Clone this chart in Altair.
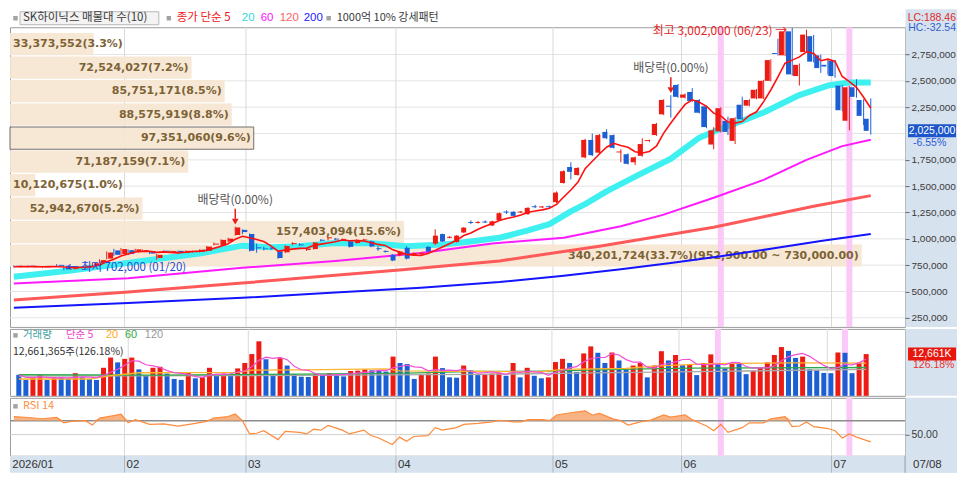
import altair as alt
import numpy as np
import pandas as pd

# ---------------- candles (thousand KRW); index 0 = 01/09 ... 120 = 07/08 ----------------
opens_k = [740, 732, 742, 731, 729, 732, 748, 745, 712, 722,
           730, 746, 770, 812, 890, 856, 892, 878, 885, 882,
           818, 882, 876, 886, 870, 874, 876, 886, 945, 936,
           976, 1036, 1085, 1046, 918, 905, 912, 882, 872, 950,
           945, 895, 903, 990, 1005, 1000, 990, 975, 960, 985,
           975, 906, 884, 848, 843, 915, 845, 858, 924, 955,
           1045, 1010, 970, 1060, 1155, 1150, 1160, 1127, 1176, 1255,
           1257, 1250, 1234, 1305, 1298, 1305, 1348, 1530, 1682, 1606,
           1773, 1939, 1818, 2015, 1985, 1820, 1803, 1727, 1788, 1928,
           1985, 2182, 2262, 2461, 2340, 2394, 2318, 2258, 1895, 2020,
           2120, 1930, 2273, 2264, 2333, 2333, 2500, 2762, 2742, 2970,
           2545, 2773, 2924, 2742, 2652, 2688, 2455, 2121, 2439, 2318,
           2140]
highs_k = [748, 745, 748, 740, 738, 742, 760, 752, 728, 735,
           748, 775, 805, 880, 905, 912, 898, 905, 898, 886,
           856, 892, 888, 890, 890, 888, 900, 932, 965, 995,
           1010, 1115, 1090, 1050, 955, 925, 925, 890, 940, 968,
           958, 915, 970, 998, 1020, 1008, 1002, 985, 996, 1000,
           982, 930, 890, 855, 885, 930, 870, 872, 930, 1090,
           1050, 1025, 1035, 1112, 1175, 1170, 1175, 1172, 1250, 1270,
           1262, 1265, 1300, 1322, 1312, 1315, 1450, 1650, 1727, 1680,
           1950, 2000, 1995, 2040, 1990, 1850, 1810, 1780, 1955, 1942,
           2100, 2325, 2364, 2470, 2380, 2430, 2325, 2265, 2060, 2250,
           2160, 2155, 2350, 2325, 2422, 2510, 2705, 2900, 2980, 3002,
           2665, 2985, 2935, 2750, 2700, 2700, 2462, 2450, 2515, 2325,
           2333]
lows_k = [728, 728, 730, 726, 722, 728, 738, 702, 705, 716,
          725, 740, 765, 805, 838, 848, 845, 872, 878, 855,
          800, 870, 870, 864, 866, 868, 872, 880, 938, 930,
          970, 1030, 1044, 880, 868, 890, 895, 810, 865, 940,
          935, 885, 898, 975, 985, 988, 985, 918, 955, 975,
          920, 885, 870, 788, 835, 805, 838, 850, 872, 940,
          970, 1005, 965, 1055, 1140, 1145, 1150, 1120, 1170, 1235,
          1212, 1245, 1230, 1292, 1292, 1295, 1340, 1525, 1564, 1600,
          1765, 1785, 1810, 1948, 1858, 1727, 1705, 1700, 1780, 1920,
          1978, 2175, 2150, 2340, 2332, 2300, 2190, 2050, 1850, 2010,
          1985, 1900, 2130, 2258, 2326, 2326, 2494, 2740, 2735, 2550,
          2455, 2765, 2675, 2576, 2560, 2530, 2212, 2030, 2340, 2080,
          1990]
closes_k = [735, 738, 736, 735, 733, 738, 744, 710, 722, 730,
            744, 768, 798, 870, 848, 903, 856, 900, 892, 860,
            848, 878, 880, 868, 886, 884, 896, 926, 955, 990,
            1002, 1108, 1064, 886, 910, 900, 905, 818, 932, 955,
            938, 908, 964, 982, 1010, 993, 996, 924, 990, 992,
            927, 902, 876, 794, 879, 812, 864, 866, 880, 1030,
            975, 1015, 1030, 1106, 1150, 1155, 1155, 1166, 1243, 1250,
            1218, 1258, 1294, 1300, 1303, 1300, 1439, 1642, 1636, 1673,
            1939, 1794, 1985, 1955, 1864, 1828, 1712, 1773, 1900, 1936,
            2091, 2318, 2255, 2348, 2370, 2309, 2197, 2061, 2030, 2240,
            2015, 2145, 2136, 2318, 2415, 2500, 2697, 2755, 2970, 2561,
            2652, 2939, 2682, 2621, 2636, 2545, 2221, 2439, 2348, 2167,
            2025]
# ---------------- volume (million shares) ----------------
vol_m = [6.38, 4.83, 5.61, 6.29, 4.83, 5.61, 5.42, 5.22, 6.87, 5.61,
         5.13, 4.83, 8.51, 11.60, 10.15, 11.22, 11.60, 8.03, 6.09, 8.51,
         8.80, 6.77, 5.13, 4.83, 7.06, 5.32, 5.61, 8.51, 6.29, 6.77,
         6.29, 8.32, 9.96, 12.67, 16.54, 11.12, 6.58, 11.41, 9.19, 6.58,
         5.80, 5.71, 6.58, 6.38, 6.87, 6.58, 5.90, 7.54, 7.64, 8.03,
         7.74, 7.54, 7.35, 11.90, 9.96, 9.67, 5.13, 6.38, 6.77, 11.90,
         8.41, 5.61, 5.51, 9.19, 7.74, 6.29, 6.48, 6.77, 7.06, 6.09,
         9.96, 5.61, 8.51, 6.09, 5.32, 5.61, 10.25, 11.22, 9.96, 7.25,
         12.86, 14.99, 13.06, 9.96, 13.15, 10.73, 8.03, 9.19, 9.96, 5.61,
         9.19, 13.54, 10.73, 12.38, 9.28, 9.48, 6.29, 9.96, 12.57, 9.96,
         8.32, 9.96, 9.67, 6.58, 7.54, 8.51, 10.15, 12.38, 14.80, 13.64,
         11.51, 11.90, 8.03, 7.74, 6.96, 6.87, 13.15, 13.06, 6.87, 10.0344,
         12.661365]

# ---------------- moving averages (thousand KRW) ----------------
ma20_idx = [0, 8, 18, 26, 32, 36, 40, 45, 50, 55, 60, 64, 68, 72, 75, 78, 80, 83, 87, 92,
            96, 99, 102, 105, 110, 114, 117, 120]
ma20_k = [640, 700, 790, 860, 935, 920, 930, 960, 958, 930, 945, 975, 1010, 1080, 1140, 1260,
          1330, 1450, 1590, 1760, 1960, 2045, 2120, 2200, 2365, 2455, 2485, 2485]
ma60_idx = [0, 16, 32, 45, 57, 67, 77, 85, 91, 98, 105, 111, 116, 120]
ma60_k = [575, 625, 725, 790, 865, 955, 1010, 1120, 1230, 1390, 1560, 1750, 1880, 1940]
ma120_idx = [0, 16, 32, 45, 54, 68, 82, 90, 98, 105, 112, 120]
ma120_k = [420, 495, 580, 655, 705, 790, 930, 1020, 1110, 1210, 1310, 1410]
ma200_idx = [0, 16, 32, 45, 57, 68, 77, 85, 92, 99, 106, 113, 120]
ma200_k = [345, 390, 440, 490, 535, 590, 650, 710, 770, 835, 905, 980, 1045]

vma20_idx = [0, 10, 13, 17, 31, 33, 40, 52, 54, 65, 74, 77, 86, 90, 98, 110, 120]
vma20_m = [5.1, 5.1, 6.1, 7.0, 7.1, 7.8, 7.9, 8.2, 7.6, 7.4, 7.3, 8.0, 8.3, 9.0, 9.8, 10.0, 9.9]
vma60_idx = [0, 20, 40, 55, 65, 75, 85, 95, 105, 120]
vma60_m = [6.4, 6.3, 6.6, 6.9, 7.4, 7.5, 8.0, 8.4, 8.5, 8.6]
vma120_idx = [0, 30, 65, 90, 120]
vma120_m = [6.0, 6.1, 6.5, 7.2, 8.0]

rsi_idx = [0, 2, 4, 6, 7, 8, 10, 11, 12, 14, 15, 16, 17, 18, 19, 21, 23, 25, 27, 28,
           30, 31, 32, 33, 34, 35, 37, 38, 40, 41, 42, 43, 44, 46, 47, 49, 50, 51, 53, 54,
           55, 56, 58, 59, 60, 62, 63, 65, 67, 68, 70, 71, 72, 74, 75, 76, 78, 80, 81, 82,
           84, 85, 86, 88, 89, 91, 92, 94, 95, 97, 98, 99, 100, 102, 103, 105, 106, 108, 109, 110,
           111, 112, 114, 115, 116, 117, 118, 120]
rsi_val = [75.9, 74.6, 72.8, 74.6, 66.9, 69.1, 70.0, 63.7, 73.6, 77.3, 79.2, 66.9, 71.4, 68.2, 64.6, 65.5, 62.3, 65.5, 69.1, 73.6,
           75.9, 79.6, 70.0, 51.0, 51.9, 55.5, 42.8, 54.6, 53.2, 51.0, 57.8, 56.4, 63.2, 56.4, 51.0, 56.4, 48.6, 45.5, 35.9, 46.4,
           40.5, 47.3, 48.6, 60.0, 56.4, 60.0, 64.6, 66.0, 68.2, 70.5, 68.2, 68.2, 71.4, 71.4, 70.0, 78.2, 81.4, 84.1, 78.2, 80.5,
           72.3, 70.0, 63.7, 69.1, 70.0, 78.2, 75.0, 78.2, 71.4, 62.3, 55.5, 64.6, 53.2, 60.0, 66.9, 66.9, 72.8, 75.9, 61.4, 62.3,
           68.2, 61.4, 58.7, 55.5, 45.1, 51.0, 46.4, 39.6]
rsi_levels = [70, 50]

month_start = [0, 16, 33, 54, 76, 94, 115]
month_label = ["2026/01", "02", "03", "04", "05", "06", "07"]
last_date = "07/08"
hi_date, lo_date = "06/23", "01/20"
exdiv_idx = [31, 92]
highlight_idx = [99, 117]
price_ticks = [250000, 500000, 750000, 1000000, 1250000, 1500000, 1750000, 2000000,
               2250000, 2500000, 2750000]
prof_base, prof_step = 730000, 222900
prof_vol = [340201724, 157403094, 52942670, 10120675, 71187159,
            97351060, 88575919, 85751171, 72524027, 33373552]  # bottom band -> top band
lc_text, hc_text = "LC:188.46", "HC:-32.54"

# ---------------- layout / styles ----------------
W, H1, H2, H3, HB, COLW = 896, 300, 67, 58, 17, 52
TOP = 18  # room above the price panel for its legend row
KR = "Noto Sans CJK KR"
NUM = "Liberation Sans"
RED, BLUE = "#ec1c14", "#1c5fd4"
PINK, BEIGE, AXBG = "#fbc9f8", "#f6e6d2", "#d7e2ef"

XDOM = [-0.54, 124.8]
YDOM = [163600, 3009000]
VDOM = [0, 20.3]
RDOM = [19.6, 102.8]
PDOM = [0, 357.5e6]
PPX = (YDOM[1] - YDOM[0]) / H1
VPX = (VDOM[1] - VDOM[0]) / H2

XS = alt.Scale(domain=XDOM, nice=False, zero=False)
YS = alt.Scale(domain=YDOM, nice=False, zero=False)
VS = alt.Scale(domain=VDOM, nice=False, zero=False)
RS = alt.Scale(domain=RDOM, nice=False, zero=False)
PS = alt.Scale(domain=PDOM, nice=False, zero=False)
CS = alt.Scale(domain=["up", "down"], range=[RED, BLUE])

YAX = alt.Axis(orient="right", values=[v for v in price_ticks if v != 2000000], format=",d",
               labelFont=NUM, labelFontSize=10, labelColor="#3a3a3a", tickColor="#666666",
               tickSize=4, labelPadding=2, domain=False, grid=False, title=None, zindex=1,
               labelOverlap=False)
RAX = alt.Axis(orient="right", values=[50], format=".2f", labelFont=NUM, labelFontSize=10.5,
               labelColor="#3a3a3a", tickColor="#666666", tickSize=4, labelPadding=2,
               domain=False, grid=False, title=None, zindex=1)


def XI(f="i"):
    return alt.X(f"{f}:Q", scale=XS, axis=None)


def YP(f):
    return alt.Y(f"{f}:Q", scale=YS, axis=YAX)


one = pd.DataFrame({"a": [0]})


def txt(s, x, y, color, size=12, font=KR, align="left", weight="normal"):
    return alt.Chart(one).mark_text(text=s, align=align, baseline="middle", font=font,
                                    fontSize=size, color=color, fontWeight=weight).encode(
        x=alt.value(x), y=alt.value(y))


def sq(x, y):
    return alt.Chart(one).mark_square(size=20, color="#a3a3a3", opacity=1).encode(
        x=alt.value(x), y=alt.value(y))


def vrect(x1, x2, y1, y2, **kw):
    return alt.Chart(one).mark_rect(**kw).encode(
        x=alt.value(x1), x2=alt.value(x2), y=alt.value(y1), y2=alt.value(y2))


# ---------------- tables ----------------
n = len(closes_k)
df = pd.DataFrame({
    "i": np.arange(n),
    "o": np.array(opens_k) * 1000,
    "h": np.array(highs_k) * 1000,
    "l": np.array(lows_k) * 1000,
    "c": np.array(closes_k) * 1000,
    "vm": np.array(vol_m),
})
df["dir"] = np.where(df.c >= df.o, "up", "down")
df["blo"] = np.minimum(df.o, df.c)
df["bhi"] = np.maximum(np.maximum(df.o, df.c), df.blo + 9000)
df["vdir"] = np.where(df.vm > df.vm.shift(1), "up", "down")

mdf = pd.DataFrame({"b": np.array(month_start) - 0.5, "lab": month_label})
hdf = pd.DataFrame({"i": highlight_idx})

last_c, prev_c = closes_k[-1] * 1000, closes_k[-2] * 1000
prof = pd.DataFrame({"k": range(10), "vol": prof_vol})
prof["lo"] = prof_base + prof.k * prof_step
prof["hi"] = prof.lo + prof_step
prof["mid"] = (prof.lo + prof.hi) / 2
tot = sum(prof_vol)
labs = []
for _, r in prof.iterrows():
    s = f"{int(r.vol):,}({r.vol / tot * 100:.1f}%)"
    if r.vol == max(prof_vol):
        s += f"({float(r.hi):,.2f} ~ {float(r.lo):,.2f})"
    labs.append(s)
prof["label"] = labs
prof["cur"] = (prof.lo <= last_c) & (last_c < prof.hi)
# a label that does not fit inside its bar starts at the left edge instead
prof["fits"] = prof.vol / PDOM[1] * W > 112

# ---------------- main price panel ----------------
def ma_line(idx, vals, color, width):
    d = pd.DataFrame({"i": idx, "p": np.array(vals) * 1000})
    return alt.Chart(d).mark_line(color=color, strokeWidth=width, strokeJoin="round").encode(
        x=XI(), y=YP("p"))


grid_h = alt.Chart(pd.DataFrame({"p": price_ticks})).mark_rule(color="#e4e4e4").encode(y=YP("p"))
grid_v = alt.Chart(mdf.iloc[1:]).mark_rule(color="#dadada").encode(x=XI("b"))
hl_main = alt.Chart(hdf).transform_calculate(a="datum.i - 0.42", b="datum.i + 0.42").mark_rect(
    color=PINK).encode(x=XI("a"), x2="b:Q", y=alt.value(0), y2=alt.value(H1))

prof_bars = alt.Chart(prof).transform_calculate(z="0", y1="datum.lo + 6000", y2="datum.hi - 6000").mark_rect(
    color=BEIGE, opacity=0.92).encode(x=alt.X("z:Q", scale=PS, axis=None), x2="vol:Q", y=YP("y1"), y2="y2:Q")
prof_cur = alt.Chart(prof).transform_filter("datum.cur").transform_calculate(
    z="0", y1="datum.lo + 6000", y2="datum.hi - 6000").mark_rect(
    fillOpacity=0, stroke="#707070", strokeWidth=1).encode(
    x=alt.X("z:Q", scale=PS, axis=None), x2="vol:Q", y=YP("y1"), y2="y2:Q")
PTXT = dict(baseline="middle", font="DejaVu Sans", fontSize=11, fontWeight="bold", color="#7d6234")
prof_text_in = alt.Chart(prof).transform_filter("datum.fits").mark_text(align="right", dx=-3, **PTXT).encode(
    x=alt.X("vol:Q", scale=PS, axis=None), y=YP("mid"), text="label:N")
prof_text_out = alt.Chart(prof).transform_filter("!datum.fits").mark_text(align="left", **PTXT).encode(
    x=alt.value(3), y=YP("mid"), text="label:N")

wick = alt.Chart(df).mark_rule(strokeWidth=1).encode(
    x=XI(), y=YP("l"), y2="h:Q", color=alt.Color("dir:N", scale=CS, legend=None))
body = alt.Chart(df).mark_bar(size=5).encode(
    x=XI(), y=YP("blo"), y2="bhi:Q", color=alt.Color("dir:N", scale=CS, legend=None))
ma5 = alt.Chart(df).transform_window(ma5="mean(c)", frame=[-4, 0], sort=[alt.SortField("i")]).mark_line(
    color="#ff1010", strokeWidth=1.6).encode(x=XI(), y=YP("ma5"))

hi_i = int(np.argmax(highs_k))
lo_i = int(np.argmin(lows_k))
hi_v, lo_v = highs_k[hi_i] * 1000, lows_k[lo_i] * 1000
ann_hi = alt.Chart(pd.DataFrame({"i": [hi_i], "p": [hi_v], "t": [f"최고 {hi_v:,} ({hi_date}) →"]})).mark_text(
    align="right", baseline="middle", dx=-5, dy=3, font=KR, fontSize=12, color="#e8251e").encode(
    x=XI(), y=YP("p"), text="t:N")
ann_lo = alt.Chart(pd.DataFrame({"i": [lo_i], "p": [lo_v], "t": [f"← 최저 {lo_v:,} ({lo_date})"]})).mark_text(
    align="left", baseline="middle", dx=3, dy=-2, font=KR, fontSize=11.5, color="#2448d8").encode(
    x=XI(), y=YP("p"), text="t:N")

exdf = pd.DataFrame({"i": exdiv_idx, "h": [highs_k[k] * 1000 for k in exdiv_idx]})
ex_text = alt.Chart(exdf).mark_text(text="배당락(0.00%)", align="center", baseline="middle", dy=-27,
                                    font=KR, fontSize=12, color="#555555").encode(x=XI(), y=YP("h"))
ex_stem = alt.Chart(exdf).mark_rule(color=RED, strokeWidth=1.5, yOffset=-18, y2Offset=-8).encode(
    x=XI(), y=YP("h"), y2="h:Q")
ex_head = alt.Chart(exdf).mark_point(shape="triangle-down", filled=True, size=45, color=RED, opacity=1,
                                     yOffset=-5).encode(x=XI(), y=YP("h"))

cur = pd.DataFrame({"p": [last_c], "t": [f"{last_c:,}"], "chg": [f"{(last_c / prev_c - 1) * 100:.2f}%"]})
cur_box = alt.Chart(cur).transform_calculate(t1=f"datum.p + {6.5 * PPX}", t2=f"datum.p - {6.5 * PPX}").mark_rect(
    color="#1d56c9").encode(x=alt.value(W + 3), x2=alt.value(W + COLW - 1), y=YP("t1"), y2="t2:Q")
cur_txt = alt.Chart(cur).mark_text(color="white", font=NUM, fontSize=10.5, align="center",
                                   baseline="middle").encode(x=alt.value(W + 27), y=YP("p"), text="t:N")
cur_chg = alt.Chart(cur).mark_text(color="#2a5ad8", font=NUM, fontSize=10.5, align="left", baseline="middle",
                                   dy=12).encode(x=alt.value(W + 8), y=YP("p"), text="chg:N")

LY = -9  # legend row centre
main_layers = [
    vrect(W + 0.5, W + COLW, -TOP, H1, color=AXBG),
    grid_h, grid_v, prof_bars, prof_cur, hl_main, prof_text_in, prof_text_out,
    ma_line(ma200_idx, ma200_k, "#1414ff", 2),
    ma_line(ma120_idx, ma120_k, "#ff5a5a", 3),
    ma_line(ma60_idx, ma60_k, "#ff19ff", 2),
    ma_line(ma20_idx, ma20_k, "#3ff0f0", 6),
    wick, body, ma5, ann_hi, ann_lo, ex_text, ex_stem, ex_head,
    cur_box, cur_txt, cur_chg,
    txt(lc_text, W + COLW - 1, LY, "#e02a2a", size=10.5, font=NUM, align="right"),
    txt(hc_text, W + COLW - 1, LY + 10, "#2f5fd0", size=10.5, font=NUM, align="right"),
    sq(5.5, LY),
    vrect(10, 149, LY - 6.5, LY + 6.5, fill="#f3f3f3", stroke="#b8b8b8", strokeWidth=1),
    txt("SK하이닉스 매물대 수(10)", 13, LY, "#3a3a3a", size=11.5),
    sq(159, LY),
    txt("종가 단순 5", 167, LY, "#f01818", size=11.5),
    txt("20", 232, LY, "#30d8e0", size=11.5, font=NUM),
    txt("60", 251, LY, "#ff10ff", size=11.5, font=NUM),
    txt("120", 270, LY, "#ff6060", size=11.5, font=NUM),
    txt("200", 294, LY, "#2020ff", size=11.5, font=NUM),
    sq(319, LY),
    txt("1000억 10% 강세패턴", 327, LY, "#3a3a3a", size=11),
]
main = alt.layer(*main_layers).resolve_scale(x="independent").properties(width=W, height=H1)

# ---------------- volume panel ----------------
def vma_line(idx, vals, color):
    d = pd.DataFrame({"i": idx, "v": vals})
    return alt.Chart(d).mark_line(color=color, strokeWidth=1.3).encode(
        x=XI(), y=alt.Y("v:Q", scale=VS, axis=None))


v_last, v_prev = vol_m[-1] * 1e6, vol_m[-2] * 1e6
vinfo = pd.DataFrame({"v": [vol_m[-1]],
                      "k": [f"{v_last / 1000:,.0f}K"],
                      "r": [f"{v_last / v_prev * 100:.2f}%"]})
vol_label = f"{int(round(v_last)):,}주({v_last / v_prev * 100:.2f}%)"

vbars = alt.Chart(df).mark_bar(size=5).encode(
    x=XI(), y=alt.Y("vm:Q", scale=VS, axis=None), color=alt.Color("vdir:N", scale=CS, legend=None))
vma5 = alt.Chart(df).transform_window(v5="mean(vm)", frame=[-4, 0], sort=[alt.SortField("i")]).mark_line(
    color="#f050d8", strokeWidth=1.2).encode(x=XI(), y=alt.Y("v5:Q", scale=VS, axis=None))
vbox = alt.Chart(vinfo).transform_calculate(t1=f"datum.v + {6.5 * VPX}", t2=f"datum.v - {6.5 * VPX}").mark_rect(
    color="#e8160c").encode(x=alt.value(W + 3), x2=alt.value(W + COLW - 1),
                            y=alt.Y("t1:Q", scale=VS, axis=None), y2="t2:Q")
vbox_t = alt.Chart(vinfo).mark_text(color="white", font=NUM, fontSize=10.5, align="center",
                                    baseline="middle").encode(
    x=alt.value(W + 27), y=alt.Y("v:Q", scale=VS, axis=None), text="k:N")
vbox_r = alt.Chart(vinfo).mark_text(color="#e8302a", font=NUM, fontSize=10.5, align="left",
                                    baseline="middle", dy=11).encode(
    x=alt.value(W + 8), y=alt.Y("v:Q", scale=VS, axis=None), text="r:N")

VLY = 6.5
vol_layers = [
    vrect(W + 0.5, W + COLW, 0, H2, color=AXBG),
    alt.Chart(mdf.iloc[1:]).mark_rule(color="#dadada").encode(x=XI("b")),
    alt.Chart(hdf).transform_calculate(a="datum.i - 0.42", b="datum.i + 0.42").mark_rect(color=PINK).encode(
        x=XI("a"), x2="b:Q", y=alt.value(0), y2=alt.value(H2)),
    vbars,
    vma_line(vma120_idx, vma120_m, "#a8a8a8"),
    vma_line(vma60_idx, vma60_m, "#2ea84a"),
    vma_line(vma20_idx, vma20_m, "#ffb52e"),
    vma5, vbox, vbox_t, vbox_r,
    sq(5.5, VLY),
    txt("거래량", 13, VLY, "#3e9fa0", size=10.5),
    txt("단순 5", 56, VLY, "#ee44cc", size=10.5),
    txt("20", 96, VLY, "#ffaa22", size=11, font=NUM),
    txt("60", 115, VLY, "#33aa44", size=11, font=NUM),
    txt("120", 135, VLY, "#999999", size=11, font=NUM),
    txt(vol_label, 3, VLY + 16.5, "#333333", size=10.5),
]
volp = alt.layer(*vol_layers).properties(width=W, height=H2)

# ---------------- RSI panel ----------------
rdf = pd.DataFrame({"i": rsi_idx, "r": rsi_val})

rsi_layers = [
    vrect(W + 0.5, W + COLW, 0, H3 + HB, color=AXBG),
    vrect(0, W + COLW, H3, H3 + HB, color=AXBG),
    alt.Chart(mdf.iloc[1:]).mark_rule(color="#dadada").encode(x=XI("b")),
    alt.Chart(mdf.iloc[1:]).mark_rule(color="#b0b8c4").encode(x=XI("b"), y=alt.value(H3), y2=alt.value(H3 + HB)),
    alt.Chart(hdf).transform_calculate(a="datum.i - 0.42", b="datum.i + 0.42").mark_rect(color=PINK).encode(
        x=XI("a"), x2="b:Q", y=alt.value(0), y2=alt.value(H3)),
    alt.Chart(pd.DataFrame({"lv": [rsi_levels[1]]})).mark_rule(color="#cfcfcf", strokeWidth=1).encode(
        y=alt.Y("lv:Q", scale=RS, axis=RAX)),
    alt.Chart(pd.DataFrame({"lv": [rsi_levels[0]]})).mark_rule(color="#8c8c8c", strokeWidth=1.5).encode(
        y=alt.Y("lv:Q", scale=RS, axis=RAX)),
    alt.Chart(rdf).transform_calculate(top=f"max(datum.r, {rsi_levels[0]})", base=f"{rsi_levels[0]}").mark_area(
        color="#f5a064", opacity=0.8).encode(x=XI(), y=alt.Y("top:Q", scale=RS, axis=RAX), y2="base:Q"),
    alt.Chart(rdf).mark_line(color="#ff8b3d", strokeWidth=1.2).encode(
        x=XI(), y=alt.Y("r:Q", scale=RS, axis=RAX)),
    sq(5.5, 8.5),
    txt("RSI 14", 13, 8.5, "#ff8b3d", size=11),
    alt.Chart(mdf).mark_text(align="left", baseline="middle", dx=2, font=NUM, fontSize=11.5,
                             color="#333333").encode(x=XI("b"), y=alt.value(H3 + HB / 2 + 0.5), text="lab:N"),
    txt(last_date, W + 8, H3 + HB / 2 + 0.5, "#333333", size=11.5, font=NUM),
    alt.Chart(one).mark_rule(color="#9a9a9a").encode(x=alt.value(W), y=alt.value(H3), y2=alt.value(H3 + HB)),
]
rsip = alt.layer(*rsi_layers).properties(width=W, height=H3)

chart = alt.vconcat(main, volp, rsip, spacing=0).properties(
    padding=0, background="white"
).configure_view(stroke="#9c9c9c", strokeWidth=1)

chart.save("out.html", embed_options={"renderer": "svg", "actions": False})
